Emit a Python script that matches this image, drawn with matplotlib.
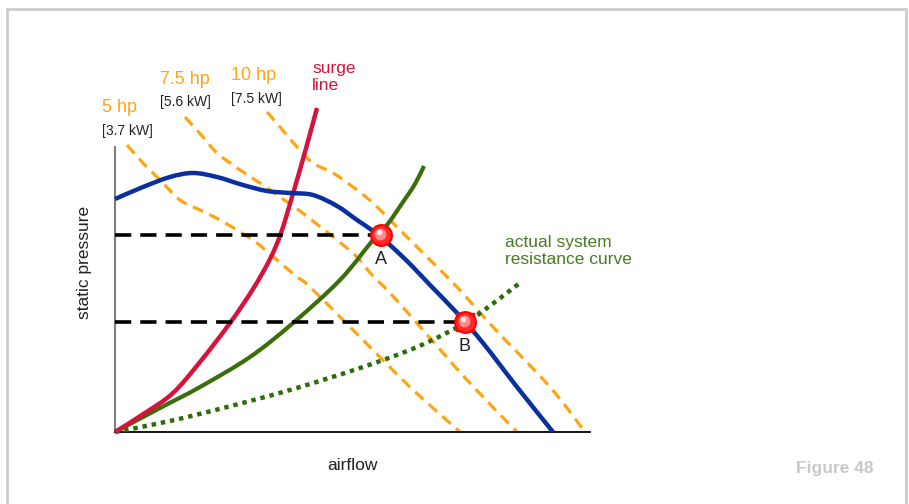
import matplotlib.pyplot as plt
from matplotlib.patches import Rectangle, PathPatch
from matplotlib.path import Path
import numpy as np

W, H = 909, 504

# fan curve (blue), airflow vs static pressure, arbitrary units
fan_x = [0, 28, 55, 78, 102, 128, 152, 175, 198, 222, 242, 258, 275, 295, 315, 342, 368, 402, 438]
fan_y = [233, 245, 255, 259, 255, 247, 241, 239, 237, 226, 212, 201, 187, 168, 147, 119, 89, 45, 0]

# surge line (red)
surge_x = [0, 30, 58, 85, 115, 138, 155, 166, 177, 190, 202]
surge_y = [0, 19, 39, 70, 109, 143, 173, 199, 235, 280, 324]

# design system curve (solid green)
sys_x = [0, 45, 85, 135, 178, 225, 258, 272, 288, 300, 309]
sys_y = [0, 24, 45, 75, 109, 152, 192, 207, 230, 248, 266]

# actual system resistance curve (dotted green)
act_x = [0, 55, 112, 175, 245, 302, 350, 380, 406]
act_y = [0, 11, 25, 42, 64, 85, 109, 130, 150]

# motor power lines (orange dashed)
hp5_x = [12, 28, 45, 65, 85, 105, 125, 142, 162, 182, 195, 245, 295, 345]
hp5_y = [287, 269, 252, 232, 222, 212, 200, 189, 172, 155, 145, 95, 45, 0]
hp75_x = [70, 88, 102, 125, 145, 165, 185, 203, 222, 242, 257, 275, 308, 352, 402]
hp75_y = [315, 295, 279, 262, 249, 235, 221, 207, 192, 175, 157, 139, 102, 52, 0]
hp10_x = [152, 165, 182, 198, 218, 238, 258, 275, 295, 315, 342, 378, 435, 470]
hp10_y = [320, 305, 285, 269, 259, 245, 229, 212, 192, 172, 145, 105, 45, 0]

# operating points
pt_names = ['A', 'B']
pt_x = [266, 350]
pt_y = [197, 110]

narrow = ['Liberation Sans', 'DejaVu Sans']


def smooth_path(xs, ys):
    # Catmull-Rom through the points, handed to matplotlib as cubic Bezier segments
    p = np.column_stack([xs, ys]).astype(float)
    p = np.vstack([p[0], p, p[-1]])
    verts = [p[1]]
    codes = [Path.MOVETO]
    for i in range(1, len(p) - 2):
        c1 = p[i] + (p[i + 1] - p[i - 1]) / 6
        c2 = p[i + 1] - (p[i + 2] - p[i]) / 6
        verts += [c1, c2, p[i + 1]]
        codes += [Path.CURVE4] * 3
    return Path(verts, codes)


def curve(ax, xs, ys, **kw):
    patch = PathPatch(smooth_path(xs, ys), fill=False, clip_on=False, **kw)
    ax.add_patch(patch)


fig = plt.figure(figsize=(W / 100, H / 100), dpi=100)
fig.patches.append(Rectangle((7 / W, -0.1), 899 / W, 1.1 - 9 / H, transform=fig.transFigure,
                             fill=False, edgecolor='#cccccc', linewidth=2))

ax = fig.add_axes([115 / W, 72 / H, 475 / W, 285 / H])
ax.set_xlim(0, 475)
ax.set_ylim(0, 285)
ax.set_xticks([])
ax.set_yticks([])
ax.spines['top'].set_visible(False)
ax.spines['right'].set_visible(False)
ax.spines['left'].set_color('#808080')
ax.spines['left'].set_linewidth(1.5)
ax.spines['bottom'].set_color('black')
ax.spines['bottom'].set_linewidth(1.3)
ax.patch.set_alpha(0)

orange = '#ffa514'
for xs, ys in [(hp5_x, hp5_y), (hp75_x, hp75_y), (hp10_x, hp10_y)]:
    curve(ax, xs, ys, edgecolor=orange, lw=2.3, linestyle=(0, (3.5, 2.2)), zorder=2)

curve(ax, act_x, act_y, edgecolor='#2e6b0a', lw=3.2, linestyle=(0, (1, 1.1)), zorder=3)
curve(ax, sys_x, sys_y, edgecolor='#3a6e0a', lw=3, zorder=3, capstyle='butt')
curve(ax, surge_x, surge_y, edgecolor='#d4143c', lw=3.2, zorder=3, capstyle='butt')
curve(ax, fan_x, fan_y, edgecolor='#0a2f9e', lw=3.2, zorder=4, capstyle='butt')

# dashed guides to the pressure axis
for x, y in zip(pt_x, pt_y):
    ax.plot([0, x], [y, y], color='black', lw=2.6, linestyle=(0, (4.5, 2.5)), zorder=5)

# glossy markers
ax.plot(pt_x[1], pt_y[1], marker='s', ms=12.5, color='#ff0a0a', zorder=6, clip_on=False)
ax.plot(pt_x, pt_y, 'o', ms=15, mfc='#ff2a2a', mec='#ff0000', mew=1.5, zorder=7, clip_on=False)
ax.plot(np.array(pt_x) - 1.5, np.array(pt_y) + 1.5, 'o', ms=8.5, color='#ff8a8a', zorder=8, mew=0)
ax.plot(np.array(pt_x) - 2, np.array(pt_y) + 3, 'o', ms=4, color='#ffe4e4', zorder=9, mew=0)

for name, x, y in zip(pt_names, pt_x, pt_y):
    ax.text(x, y - 16, name, ha='center', va='top', fontsize=13,
            family=['Liberation Sans', 'DejaVu Sans'], color='#222222', zorder=8)


def px(x, y):
    return x / W, 1 - y / H


fig.text(*px(312, 77), 'surge\nline', color='#d4143c', fontsize=12.5, family=narrow,
         ha='left', va='center', linespacing=1.2)
for x, y, hp, kw in [(102, 108, '5 hp', '[3.7 kW]'), (160, 79, '7.5 hp', '[5.6 kW]'),
                     (231, 76, '10 hp', '[7.5 kW]')]:
    fig.text(*px(x, y), hp, color=orange, fontsize=13, family=narrow, ha='left', va='center')
    fig.text(*px(x, y + 23), kw, color='#222222', fontsize=10, family=narrow,
             ha='left', va='center')

fig.text(*px(505, 251), 'actual system\nresistance curve', color='#4a7a22', fontsize=12.5,
         family=narrow, ha='left', va='center', linespacing=1.15)
fig.text(*px(85, 262), 'static pressure', rotation=90, fontsize=12.5, family=narrow,
         color='#222222', ha='center', va='center')
fig.text(*px(352, 465), 'airflow', fontsize=12.5, family=narrow, color='#222222',
         ha='center', va='center')
fig.text(*px(873, 469), 'Figure 48', fontsize=12.5, fontweight='bold',
         family=['Liberation Sans', 'DejaVu Sans'], color='#c8c8c8', ha='right', va='center')

fig.savefig('out.png', dpi=100)
